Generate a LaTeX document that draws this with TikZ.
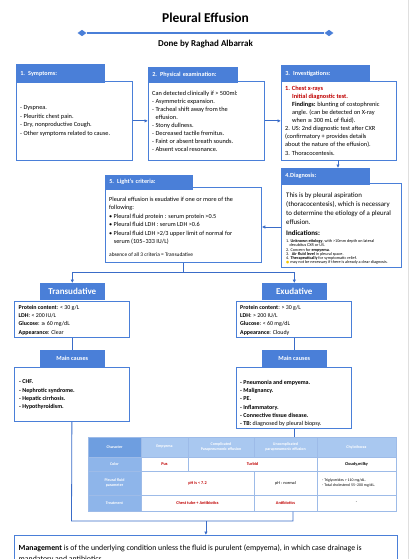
\documentclass[tikz,border=0pt]{standalone}
\usepackage{fontspec}
\setmainfont{Carlito}
\newfontfamily\dejavu{DejaVu Sans}
\usetikzlibrary{arrows.meta,shapes.geometric}
\definecolor{hblue}{HTML}{4A7FD8}
\definecolor{cblue}{HTML}{3A6CC8}
\definecolor{lblue}{HTML}{A9C8F0}
\definecolor{mblue}{HTML}{8EB5EA}
\definecolor{dblue}{HTML}{6E9EE0}
\definecolor{gblue}{HTML}{9DBBE8}
\definecolor{dred}{HTML}{C00000}
\definecolor{bulb}{HTML}{F2C500}
\newcommand\myfs[2]{\fontsize{#1}{#2}\selectfont}
\newcommand\mygeq{{\dejavu\scalebox{0.85}{≥}}}
\begin{document}
\begin{tikzpicture}[x=1pt,y=-1pt,
  hdr/.style={fill=hblue, draw=hblue, line width=0.6pt, text=white, anchor=north west, inner xsep=4pt, inner ysep=0pt, align=left, font=\myfs{6.2}{7}\bfseries},
  chdr/.style={fill=hblue, draw=hblue, line width=0.6pt, text=white, anchor=north west, inner sep=0pt, align=center},
  body/.style={draw=hblue, line width=0.8pt, fill=white, anchor=north west, inner sep=0pt},
  txt/.style={anchor=north west, inner sep=0pt, align=left},
  stxt/.style={anchor=base west, inner sep=0pt},
  arr/.style={draw=cblue, line width=0.8pt, -{Latex[length=3.5pt,width=3.5pt]}},
  lnk/.style={draw=cblue, line width=0.8pt},
  tl/.style={draw=gblue, line width=0.5pt},
  ct/.style={inner sep=0pt, align=center},
]
\useasboundingbox (0,0) rectangle (411,559);
\clip (0,0) rectangle (411,559);
\fill[white] (0,0) rectangle (411,559);
\draw[gray!25, line width=0.8pt] (408.5,0) -- (408.5,559);

% title
\node[inner sep=0pt, font=\myfs{13.5}{15}\bfseries] (title) at (205.5,17.5) {Pleural Effusion};
\node[diamond, fill=hblue, minimum width=9pt, minimum height=6.5pt, inner sep=0pt] (dl) at (82,33) {};
\node[diamond, fill=hblue, minimum width=9pt, minimum height=6.5pt, inner sep=0pt] (dr) at (329,33) {};
\draw[hblue, line width=1.5pt] (dl) -- (dr);
\node[inner sep=0pt, font=\myfs{9}{10}\bfseries] (author) at (205.5,44) {Done by Raghad Albarrak};

% box 1
\node[body, minimum width=116pt, minimum height=79pt] (b1) at (16,81) {};
\node[hdr, text width=80pt, minimum height=18pt] (h1) at (16,64.5) {1. Symptoms:};
\node[txt, font=\myfs{6.3}{8.4}] (t1) at (20,105.6) {- Dyspnea.\\- Pleuritic chest pain.\\- Dry, nonproductive Cough.\\- Other symptoms related to cause.};

% box 2
\node[body, minimum width=116pt, minimum height=79pt] (b2) at (148,81) {};
\node[hdr, text width=81pt, minimum height=15pt] (h2) at (148,67) {2. Physical examination:};
\node[txt, font=\myfs{6.3}{8.05}] (t2) at (152,90.6) {Can detected clinically if > 500ml:\\- Asymmetric expansion.\\- Tracheal shift away from the\\\hspace*{0.55em}effusion.\\- Stony dullness.\\- Decreased tactile fremitus.\\- Faint or absent breath sounds.\\- Absent vocal resonance.};

% box 3
\node[body, minimum width=115pt, minimum height=79pt] (b3) at (281,81) {};
\node[hdr, text width=80pt, minimum height=16pt] (h3) at (281,65.5) {3. Investigations:};
\node[txt, font=\myfs{6.3}{8.1}] (t3) at (285,85.6) {{\color{dred}\bfseries 1. Chest x-rays}\\\hspace*{1.1em}{\color{dred}\bfseries Initial diagnostic test.}\\\hspace*{1.1em}\textbf{Findings:} blunting of costophrenic\\\hspace*{1.1em}angle. (can be detected on X-ray\\\hspace*{1.1em}when \mygeq\ 300 mL of fluid).\\2. US: 2nd diagnostic test after CXR\\(confirmatory + provides details\\about the nature of the effusion).\\3. Thoracocentesis.};

% box 4
\node[body, minimum width=120pt, minimum height=84pt] (b4) at (281,183) {};
\node[hdr, text width=80pt, minimum height=16pt] (h4) at (281,168) {4.Diagnosis:};
\node[txt, font=\myfs{6.9}{9}] (t4) at (286,192.8) {This is by pleural aspiration\\(thoracocentesis), which is necessary\\to determine the etiology of a pleural\\effusion.};
\node[stxt, font=\myfs{7}{8}\bfseries] (t4b) at (286,235.5) {Indications:};
\node[txt, font=\myfs{4.2}{4.3}] (t4c) at (286,239.3) {1. \textbf{Unknown etiology}, with >10mm depth on lateral\\\hspace*{0.8em}decubitus CXR or US.\\2. Concern for \textbf{empyema}.\\3. \hspace*{0.3em}\textbf{Air fluid level} in pleural space.\\4. \textbf{Therapeutically} for symptomatic relief.\\{\color{bulb}\dejavu\myfs{3.6}{4}●} may not be necessary if there is already a clear diagnosis.};

% box 5
\node[body, minimum width=156pt, minimum height=75pt] (b5) at (105,187) {};
\node[hdr, text width=79pt, minimum height=13.5pt] (h5) at (105,175) {5. Light's criteria:};
\node[txt, font=\myfs{6.2}{8.5}] (t5) at (109,196.7) {Pleural effusion is exudative if one or more of the\\following:\\\textbullet\ Pleural fluid protein : serum protein >0.5\\\textbullet\ Pleural fluid LDH : serum LDH >0.6\\\textbullet\ Pleural fluid LDH >2/3 upper limit of normal for\\\hspace*{0.75em}serum (105--333 IU/L)};
\node[stxt, font=\myfs{5.4}{6}] (t5b) at (109,256.5) {absence of all 3 criteria = Transudative};

% arrows between top boxes
\draw[arr] (b1.east) -- (b2.west);
\draw[arr] (b2.east) -- (b3.west);
\draw[arr] (338,160) -- (338,168);
\draw[arr] (b4.west |- 0,227) -- (b5.east |- 0,227);

% transudative
\node[body, minimum width=115pt, minimum height=36pt] (tb) at (14,301) {};
\node[chdr, minimum width=64pt, minimum height=16pt, font=\myfs{9}{10}\bfseries] (ht) at (40,283) {Transudative};
\node[txt, font=\myfs{5.9}{8.3}] (tt) at (18.5,304.9) {\textbf{Protein content}: < 30 g/L\\\textbf{LDH}: < 200 IU/L\\\textbf{Glucose}: \mygeq\ 60 mg/dL\\\textbf{Appearance}: Clear};
\node[body, minimum width=115pt, minimum height=54pt] (tc) at (14,367) {};
\node[chdr, minimum width=64pt, minimum height=16pt, font=\myfs{6.2}{7}\bfseries] (mt) at (40,350) {Main causes};
\node[txt, font=\myfs{6}{8.3}\bfseries] (tct) at (19,379.8) {- CHF.\\- Nephrotic syndrome.\\- Hepatic cirrhosis.\\- Hypothyroidism.};

% exudative
\node[body, minimum width=115pt, minimum height=36pt] (eb) at (236,301) {};
\node[chdr, minimum width=64pt, minimum height=16pt, font=\myfs{9}{10}\bfseries] (he) at (262,283) {Exudative};
\node[txt, font=\myfs{5.9}{8.3}] (et) at (240,304.9) {\textbf{Protein content}: > 30 g/L\\\textbf{LDH}: > 200 IU/L\\\textbf{Glucose}: < 60 mg/dL\\\textbf{Appearance}: Cloudy};
\node[body, minimum width=115pt, minimum height=61pt] (ec) at (236,367) {};
\node[chdr, minimum width=64pt, minimum height=16pt, font=\myfs{6.2}{7}\bfseries] (me) at (262,350) {Main causes};
\node[txt, font=\myfs{6}{8.3}] (ect) at (240,379.8) {\textbf{- Pneumonia and empyema.}\\\textbf{- Malignancy.}\\\textbf{- PE.}\\\textbf{- Inflammatory.}\\\textbf{- Connective tissue disease.}\\\textbf{- TB:} diagnosed by pleural biopsy.};

% split
\coordinate (split) at (183,272);
\draw[lnk] (b5.south -| split) -- (split);
\draw[arr] (split) -| (ht.north);
\draw[arr] (split) -| (he.north);
\draw[lnk] (tb.south -| mt.north) -- (mt.north);
\draw[lnk] (eb.south -| me.north) -- (me.north);

% table
\fill[dblue] (88,437) rectangle (141,457);
\fill[lblue] (141,437) rectangle (396,457);
\fill[mblue] (88,457) rectangle (141,511);
\draw[tl] (88,457) -- (396,457);
\draw[tl] (88,471) -- (396,471);
\draw[tl] (88,495) -- (396,495);
\draw[tl] (141,437) -- (141,511);
\draw[tl] (188,437) -- (188,471);
\draw[tl] (254,437) -- (254,457);
\draw[tl] (254,471) -- (254,511);
\draw[tl] (317,437) -- (317,511);
\node[draw=gblue, line width=0.6pt, minimum width=308pt, minimum height=74pt, anchor=north west, inner sep=0pt] (tbl) at (88,437) {};

\node[ct, text=white, font=\myfs{4}{4.6}\bfseries] (c11) at (114.5,447) {Character};
\node[ct, text=white, font=\myfs{4}{4.6}\bfseries] (c12) at (164.5,447) {Empyema};
\node[ct, text=white, font=\myfs{4}{4.6}\bfseries] (c13) at (221,447) {Complicated\\Parapneumonic effusion};
\node[ct, text=white, font=\myfs{4}{4.6}\bfseries] (c14) at (285.5,447) {Uncomplicated\\parapneumonic effusion};
\node[ct, text=white, font=\myfs{4}{4.6}\bfseries] (c15) at (356.5,447) {Chylothorax};

\node[ct, text=white, font=\myfs{4}{4.6}\bfseries] (c21) at (114.5,464) {Color};
\node[ct, text=dred, font=\myfs{4.3}{5}\bfseries] (c22) at (164.5,464) {Pus};
\node[ct, text=dred, font=\myfs{4.3}{5}\bfseries] (c23) at (252.5,464) {Turbid};
\node[ct, font=\myfs{4.3}{5}\bfseries] (c25) at (356.5,464) {Cloudy,milky};

\node[ct, text=white, font=\myfs{4}{4.6}\bfseries] (c31) at (114.5,483) {Pleural fluid\\parameter};
\node[ct, text=dred, font=\myfs{4.3}{5}\bfseries] (c32) at (197.5,483) {pH is < 7.2};
\node[ct, font=\myfs{4.3}{5}] (c34) at (285.5,483) {pH : normal};
\node[anchor=west, inner sep=0pt, align=left, font=\myfs{3.9}{4.5}] (c35) at (322,483) {- Triglycerides > 110 mg/dL.\\- Total cholesterol 55--200 mg/dL.};

\node[ct, text=white, font=\myfs{4}{4.6}\bfseries] (c41) at (114.5,503) {Treatment};
\node[ct, text=dred, font=\myfs{4.3}{5}\bfseries] (c42) at (197.5,503) {Chest tube + Antibiotics};
\node[ct, text=dred, font=\myfs{4.3}{5}\bfseries] (c44) at (285.5,503) {Antibiotics};
\node[ct, font=\myfs{4.3}{5}] (c45) at (356.5,503) {-};

\draw[lnk] (ec.south) -- (ec.south |- tbl.north);

% management
\node[body, minimum width=383pt, minimum height=40pt] (mg) at (14,535) {};
\node[txt, font=\myfs{7.8}{10.5}] (mgt) at (18.5,545) {\textbf{Management} is of the underlying condition unless the fluid is purulent (empyema), in which case drainage is\\mandatory and antibiotics.};

\coordinate (jl) at (71.5,521);
\coordinate (jr) at (293,521);
\draw[lnk] (tc.south) -- (jl) -- (jr) -- (jr |- tbl.south);
\draw[arr] (jl -| mg.north) -- (mg.north);
\end{tikzpicture}
\end{document}
